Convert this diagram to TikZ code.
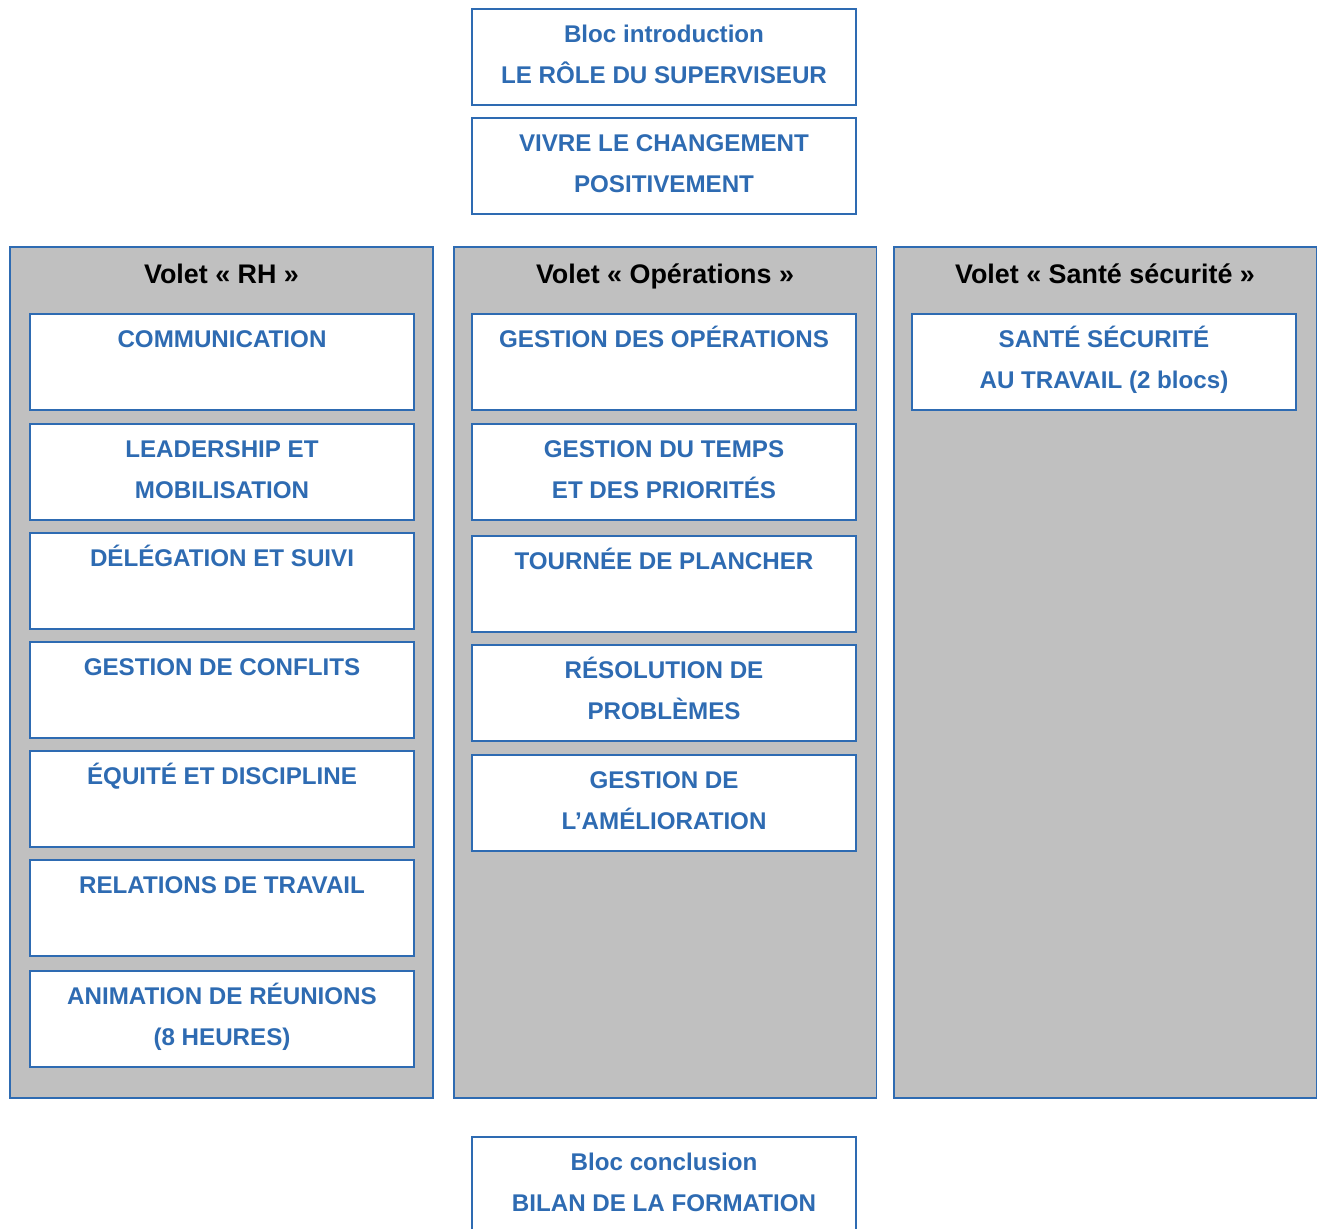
\documentclass[tikz,border=0pt]{standalone}
\usepackage{fontspec}
\setmainfont{Liberation Sans}
\usepackage{tikz}
\usetikzlibrary{positioning}

\definecolor{blocblue}{HTML}{2E6BB2}
\definecolor{voletgray}{HTML}{C0C0C0}

% Two text lines, top aligned, same spacing in every bloc
\newcommand{\bloctext}[2]{\strut#1\\\rule[-9.3pt]{0pt}{9.3pt}#2}

\begin{document}
\begin{tikzpicture}[x=0.02cm, y=-0.02cm]
    % Define styles
    \tikzstyle{bloc} = [rectangle, draw=blocblue, line width=1.1pt, fill=white, minimum width=7.68cm, minimum height=1.92cm, inner sep=0pt, align=center, text=blocblue, font=\bfseries\fontsize{13.75}{23.3}\selectfont]
    \tikzstyle{volet} = [rectangle, draw=blocblue, line width=1.1pt, fill=voletgray, minimum width=8.46cm, minimum height=17.02cm, inner sep=0pt]
    \tikzstyle{title} = [anchor=base, font=\bfseries\fontsize{15.3}{18}\selectfont, text=black]

    \useasboundingbox (0,0) rectangle (1317,1228);

    % Intro blocks
    \node[bloc] (intro) at (664,57) {\bloctext{Bloc introduction}{LE RÔLE DU SUPERVISEUR}};
    \node[bloc] (changement) at (664,166) {\bloctext{VIVRE LE CHANGEMENT}{POSITIVEMENT}};

    % Volets (background panels)
    \node[volet] (rh) at (221.5,672.5) {};
    \node[volet] (ops) at (665,672.5) {};
    \node[volet] (ss) at (1105,672.5) {};

    % Volet titles
    \node[title] (rhtitle) at (221.5,283) {Volet «~RH~»};
    \node[title] (opstitle) at (665,283) {Volet «~Opérations~»};
    \node[title] (sstitle) at (1105,283) {Volet «~Santé sécurité~»};

    % Volet RH blocks
    \node[bloc] (comm) at (222,362) {\bloctext{COMMUNICATION}{}};
    \node[bloc] (leader) at (222,472) {\bloctext{LEADERSHIP ET}{MOBILISATION}};
    \node[bloc] (deleg) at (222,581) {\bloctext{DÉLÉGATION ET SUIVI}{}};
    \node[bloc] (conflits) at (222,690) {\bloctext{GESTION DE CONFLITS}{}};
    \node[bloc] (equite) at (222,799) {\bloctext{ÉQUITÉ ET DISCIPLINE}{}};
    \node[bloc] (relations) at (222,908) {\bloctext{RELATIONS DE TRAVAIL}{}};
    \node[bloc] (reunions) at (222,1019) {\bloctext{ANIMATION DE RÉUNIONS}{(8 HEURES)}};

    % Volet Operations blocks
    \node[bloc] (gestops) at (664,362) {\bloctext{GESTION DES OPÉRATIONS}{}};
    \node[bloc] (temps) at (664,472) {\bloctext{GESTION DU TEMPS}{ET DES PRIORITÉS}};
    \node[bloc] (tournee) at (664,584) {\bloctext{TOURNÉE DE PLANCHER}{}};
    \node[bloc] (resolution) at (664,693) {\bloctext{RÉSOLUTION DE}{PROBLÈMES}};
    \node[bloc] (amelioration) at (664,803) {\bloctext{GESTION DE}{L’AMÉLIORATION}};

    % Volet Sante securite block
    \node[bloc] (sst) at (1104,362) {\bloctext{SANTÉ SÉCURITÉ}{AU TRAVAIL (2 blocs)}};

    % Conclusion block (cut by the page edge)
    \node[bloc] (conclusion) at (664,1185) {\bloctext{Bloc conclusion}{BILAN DE LA FORMATION}};

\end{tikzpicture}
\end{document}
